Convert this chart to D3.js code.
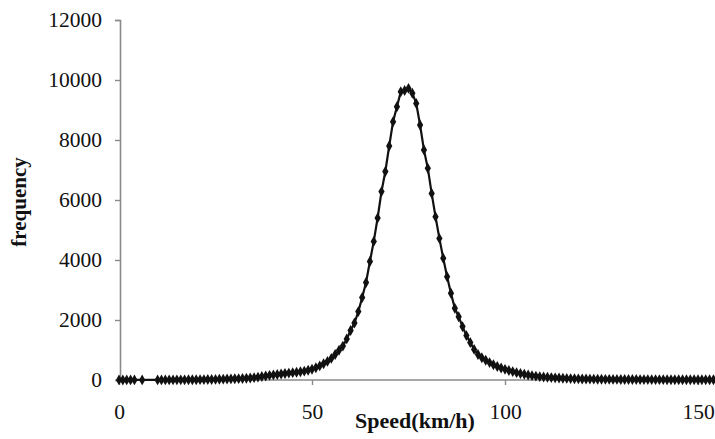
<!DOCTYPE html>
<html>
<head>
<meta charset="utf-8">
<script src="https://cdn.jsdelivr.net/npm/d3@7"></script>
<style>
  html, body { margin: 0; padding: 0; background: #fff; }
  svg { display: block; }
</style>
</head>
<body>
<svg id="chart" width="715" height="439"></svg>
<script>
// ---- data ----
const speeds = [
  0, 1, 2, 3, 4, 6, 10, 11, 12, 13, 14, 15, 16, 17, 18, 19, 20, 21, 22, 23, 24, 25, 26, 27, 28, 29,
  30, 31, 32, 33, 34, 35, 36, 37, 38, 39, 40, 41, 42, 43, 44, 45, 46, 47, 48, 49,
  50, 51, 52, 53, 54, 55, 56, 57, 58, 59, 60, 61, 62, 63, 64, 65, 66, 67, 68, 69,
  70, 71, 72, 73, 74, 75, 76, 77, 78, 79, 80, 81, 82, 83, 84, 85, 86, 87, 88, 89,
  90, 91, 92, 93, 94, 95, 96, 97, 98, 99, 100, 101, 102, 103, 104, 105, 106, 107, 108, 109,
  110, 111, 112, 113, 114, 115, 116, 117, 118, 119, 120, 121, 122, 123, 124, 125, 126, 127, 128, 129,
  130, 131, 132, 133, 134, 135, 136, 137, 138, 139, 140, 141, 142, 143, 144, 145, 146, 147, 148, 149,
  150, 151, 152, 153, 154, 155
];
const frequency = [
  2, 1, 2, 3, 2, 2, 3, 3, 4, 4, 4, 5, 5, 6, 8, 8, 10, 12, 14, 16, 18, 20, 24, 28, 32, 36,
  40, 45, 50, 57, 65, 78, 95, 115, 135, 155, 170, 185, 200, 215, 230, 245, 260, 275, 295, 325,
  360, 410, 470, 540, 620, 720, 850, 990, 1130, 1370, 1650, 1900, 2280, 2750, 3250, 3950, 4620, 5400, 6280, 6950,
  7800, 8610, 9110, 9610, 9650, 9720, 9560, 9220, 8500, 7670, 7060, 6220, 5440, 4720, 4060, 3440, 2890, 2390, 2110, 1780,
  1480, 1250, 1020, 850, 740, 660, 580, 510, 450, 400, 355, 315, 280, 245, 215, 190, 165, 145, 128, 112,
  100, 90, 80, 72, 65, 58, 52, 47, 43, 39, 35, 32, 30, 28, 26, 24, 22, 21, 20, 19,
  18, 17, 16, 15, 15, 14, 13, 13, 12, 12, 11, 11, 10, 10, 10, 9, 9, 9, 8, 8,
  8, 8, 7, 7, 7, 7
];
const xTicks = [0, 50, 100, 150];
const yTicks = [0, 2000, 4000, 6000, 8000, 10000, 12000];
const xTitle = "Speed(km/h)";
const yTitle = "frequency";

// ---- drawing ----
const svg = d3.select("#chart");
const x = d3.scaleLinear().domain([0, 155]).range([119, 119 + 155 * 3.86]);
const y = d3.scaleLinear().domain([0, 12000]).range([380, 20]);

const pts = speeds.map((s, i) => ({ s: s, f: frequency[i] }));
const fontFam = "'Liberation Serif', 'Times New Roman', serif";
const axisColor = "#8a8a8a";

// y axis
const gy = svg.append("g").attr("transform", "translate(120,0)")
  .call(d3.axisLeft(y).tickValues(yTicks).tickSize(5).tickPadding(13).tickFormat(d3.format("d")));
gy.select(".domain").attr("stroke", axisColor).attr("stroke-width", 1.6);
gy.selectAll(".tick line").attr("stroke", axisColor).attr("stroke-width", 1.4);
gy.selectAll(".tick text").attr("font-family", fontFam).attr("font-size", 21.5).attr("fill", "#111");

// x axis
const gx = svg.append("g").attr("transform", "translate(0,380)")
  .call(d3.axisBottom(x).tickValues(xTicks).tickSize(5).tickSizeOuter(0).tickFormat(d3.format("d")));
gx.select(".domain").attr("stroke", axisColor).attr("stroke-width", 1.6)
  .attr("d", "M120,0H715");
gx.selectAll(".tick line").attr("stroke", axisColor).attr("stroke-width", 1.4);
gx.selectAll(".tick text").attr("font-family", fontFam).attr("font-size", 21.5).attr("fill", "#111")
  .attr("y", 39).attr("dy", 0);

// line
const line = d3.line().x(d => x(d.s)).y(d => y(d.f));
svg.append("path").datum(pts)
  .attr("fill", "none").attr("stroke", "#111").attr("stroke-width", 2.2)
  .attr("d", line);

// markers
svg.append("g").selectAll("path").data(pts).join("path")
  .attr("transform", d => `translate(${x(d.s)},${y(d.f)})`)
  .attr("d", d3.symbol().type(d3.symbolDiamond).size(34))
  .attr("fill", "#111");

// titles
svg.append("text").attr("x", 415).attr("y", 428).attr("text-anchor", "middle")
  .attr("font-family", fontFam).attr("font-weight", "bold").attr("font-size", 22)
  .attr("fill", "#111").text(xTitle);
svg.append("text").attr("transform", "translate(26,202) rotate(-90)").attr("text-anchor", "middle")
  .attr("font-family", fontFam).attr("font-weight", "bold").attr("font-size", 21)
  .attr("fill", "#111").text(yTitle);
</script>
</body>
</html>
